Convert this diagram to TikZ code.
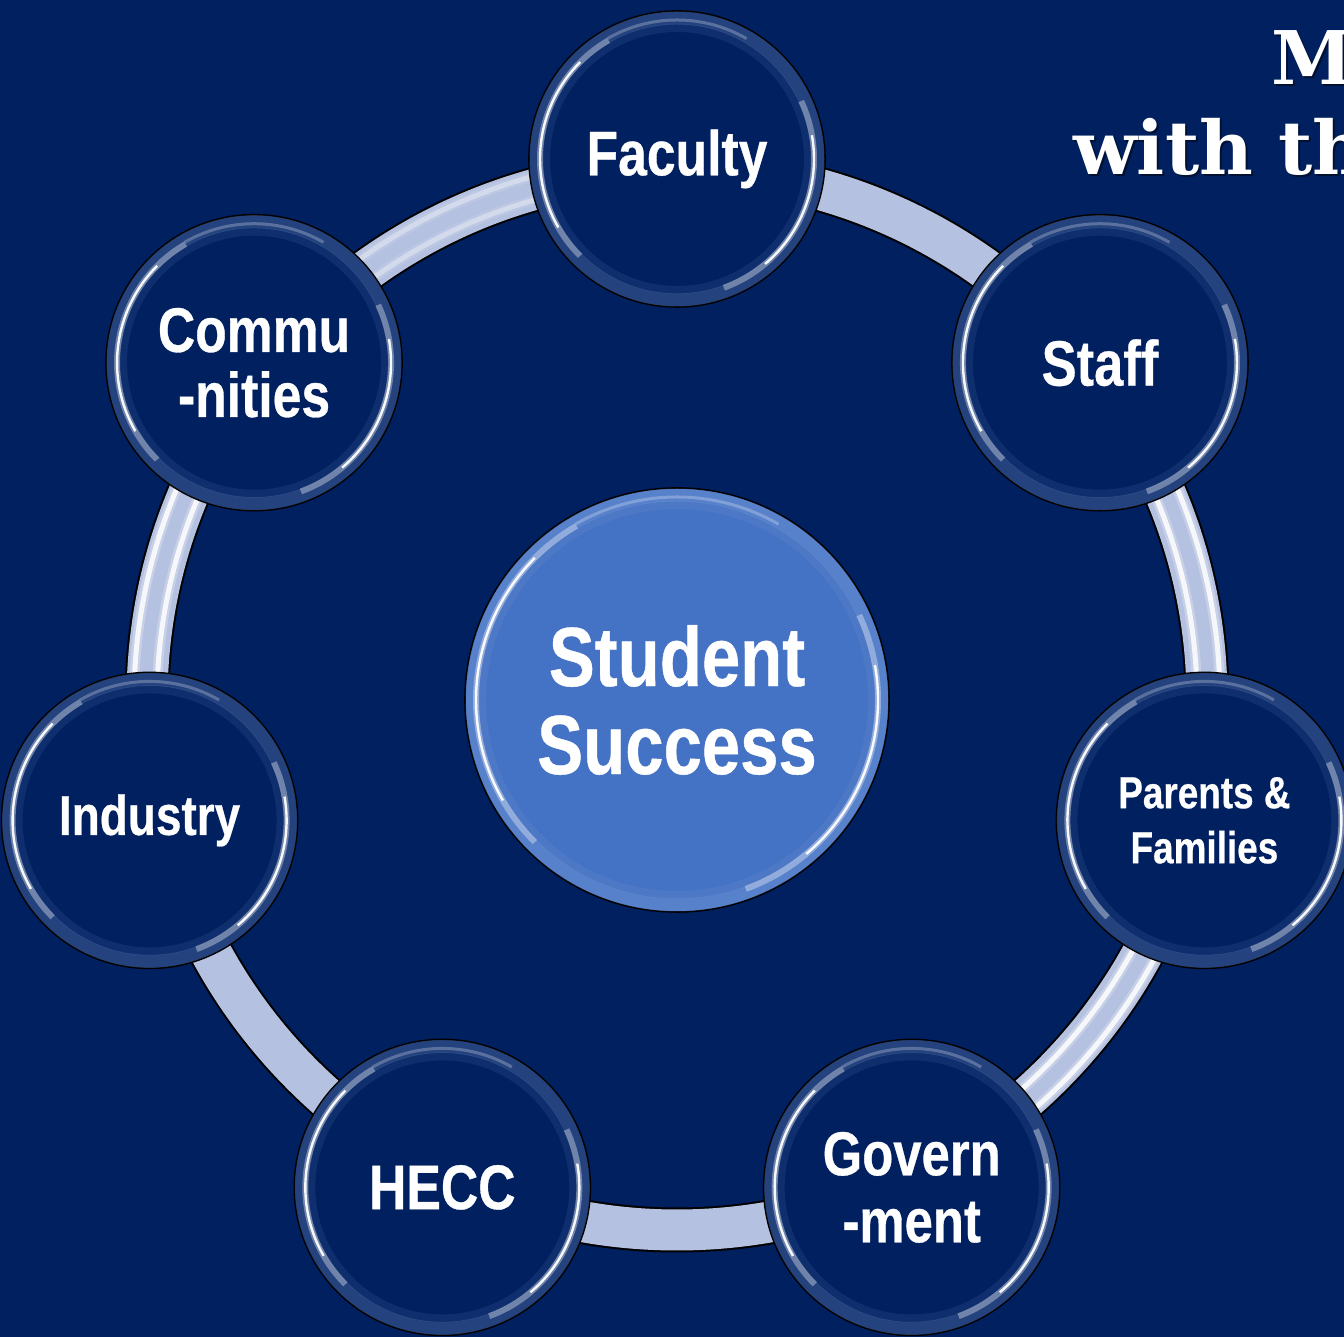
\documentclass[tikz,border=0pt]{standalone}
\usepackage{fontspec}
\newfontfamily\nar{Liberation Sans}[FakeStretch=0.82, BoldFeatures={FakeBold=0.5}]
\newfontfamily\slab{DejaVu Serif}
\usetikzlibrary{calc}
\definecolor{bgnavy}{RGB}{0,32,96}
\definecolor{ringc}{RGB}{181,193,224}
\definecolor{hubblue}{RGB}{68,114,196}
\definecolor{glowc}{RGB}{150,178,225}
% #1 node name, #2 outer radius of the bubble
\newcommand\glossring[2]{%
  \begin{scope}[shift={(#1.center)}]
    \draw[glowc, opacity=0.10, line width=8pt] (0,0) circle[radius=#2-17];
    \draw[glowc, opacity=0.24, line width=13pt] (0,0) circle[radius=#2-7];
    \draw[white, opacity=0.35, line width=6pt] (120:#2-11) arc[start angle=120, end angle=225, radius=#2-11];
    \draw[white, opacity=0.95, line width=2.4pt] (135:#2-11) arc[start angle=135, end angle=210, radius=#2-11];
    \draw[white, opacity=0.35, line width=6pt] (-70:#2-11) arc[start angle=-70, end angle=25, radius=#2-11];
    \draw[white, opacity=0.95, line width=2.4pt] (-50:#2-11) arc[start angle=-50, end angle=10, radius=#2-11];
    \draw[white, opacity=0.25, line width=3pt] (60:#2-9) arc[start angle=60, end angle=120, radius=#2-9];
  \end{scope}}
\begin{document}
\begin{tikzpicture}[x=1pt,y=1pt,
  bubble/.style={circle, draw=black, line width=1.6pt, fill=bgnavy,
    minimum size=296pt, inner sep=0pt, text=white, align=center},
  hubbubble/.style={circle, draw=black, line width=1.6pt, fill=hubblue,
    minimum size=424pt, inner sep=0pt, text=white, align=center},
  stripe/.style={white, line width=5pt},
  softstripe/.style={white, line width=10pt},
  titletext/.style={anchor=base west, inner sep=0pt, font={\slab\bfseries\fontsize{74}{80}\selectfont}},
]
\useasboundingbox (0,0) rectangle (1344,1337);
\fill[bgnavy] (0,0) rectangle (1344,1337);
\clip (0,0) rectangle (1344,1337);

\coordinate (hub) at (677,637);

% ring
\draw[black, line width=45pt] (hub) circle[radius=530];
\draw[ringc, line width=41pt] (hub) circle[radius=530];
\begin{scope}[shift={(hub)}]
  \foreach \a/\b/\o in {0/26/1, -52/-25/1, 151/184/1, 105/128/0.4}{
    \draw[softstripe, opacity=0.25*\o] (\a:543) arc[start angle=\a, end angle=\b, radius=543];
    \draw[stripe, opacity=0.85*\o] (\a:543) arc[start angle=\a, end angle=\b, radius=543];
    \draw[softstripe, opacity=0.25*\o] (\a:520) arc[start angle=\a, end angle=\b, radius=520];
    \draw[stripe, opacity=0.85*\o] (\a:520) arc[start angle=\a, end angle=\b, radius=520];
  }
\end{scope}

% outer bubbles
\node[bubble] (fac) at ($(hub)+(90:541)$) {};
\node[bubble] (staff) at ($(hub)+(38.57:541)$) {};
\node[bubble] (par) at ($(hub)+(-12.86:541)$) {};
\node[bubble] (gov) at ($(hub)+(-64.29:541)$) {};
\node[bubble] (hecc) at ($(hub)+(-115.71:541)$) {};
\node[bubble] (ind) at ($(hub)+(-167.14:541)$) {};
\node[bubble] (comm) at ($(hub)+(141.43:541)$) {};
\node[hubbubble] (succ) at (hub) {};

\foreach \n in {fac,staff,par,gov,hecc,ind,comm}{\glossring{\n}{148}}
\glossring{succ}{212}

% labels
\node[text=white, font={\nar\bfseries\fontsize{63}{65}\selectfont}] (facl) at (fac) {Faculty};
\node[text=white, font={\nar\bfseries\fontsize{64}{66}\selectfont}] (staffl) at (staff) {Staff};
\node[text=white, align=center, font={\nar\bfseries\fontsize{45}{55}\selectfont}] (parl) at (par) {Parents \&\\Families};
\node[text=white, align=center, font={\nar\bfseries\fontsize{62}{67}\selectfont}] (govl) at (gov) {Govern\\-ment};
\node[text=white, font={\nar\bfseries\fontsize{63}{65}\selectfont}] (heccl) at (hecc) {HECC};
\node[text=white, font={\nar\bfseries\fontsize{56}{60}\selectfont}] (indl) at (ind) {Industry};
\node[text=white, align=center, font={\nar\bfseries\fontsize{63}{65}\selectfont}] (comml) at (comm) {Commu\\-nities};
\node[text=white, align=center, font={\nar\bfseries\fontsize{84}{88}\selectfont}] (succl) at (succ) {Student\\Success};

% title (cut off at the right edge)
\node[titletext, text=black, opacity=0.45] (t1s) at (1273,1250) {M};
\node[titletext, text=white] (t1) at (1271,1252) {M};
\node[titletext, text=black, opacity=0.45] (t2s) at (1075,1160) {with th};
\node[titletext, text=white] (t2) at (1073,1162) {with th};
\end{tikzpicture}
\end{document}
